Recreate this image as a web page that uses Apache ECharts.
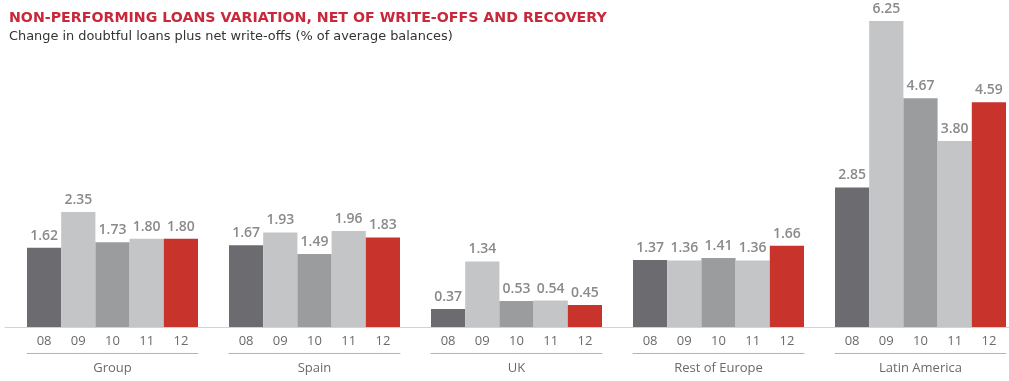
<!DOCTYPE html>
<html>
<head>
<meta charset="utf-8">
<script src="https://cdn.jsdelivr.net/npm/echarts@6/dist/echarts.min.js"></script>
<style>
  html, body { margin: 0; padding: 0; background: #ffffff; }
  #chart { width: 1009px; height: 381px; }
</style>
</head>
<body>
<div id="chart"></div>
<script>
// Years shown under each bar and region names under each group
const years = ['08', '09', '10', '11', '12'];
const regions = ['Group', 'Spain', 'UK', 'Rest of Europe', 'Latin America'];

// Change in doubtful loans plus net write-offs, % of average balances
const groupValues = [1.62, 2.35, 1.73, 1.80, 1.80];
const spainValues = [1.67, 1.93, 1.49, 1.96, 1.83];
const ukValues = [0.37, 1.34, 0.53, 0.54, 0.45];
const restOfEuropeValues = [1.37, 1.36, 1.41, 1.36, 1.66];
const latinAmericaValues = [2.85, 6.25, 4.67, 3.80, 4.59];

const regionValues = [groupValues, spainValues, ukValues, restOfEuropeValues, latinAmericaValues];

// Shared vertical scale for all panels
const yMax = 6.25;

// One colour per year: 08 dark, 09 light, 10 mid, 11 light, 12 red
const yearColors = ['#6c6c70', '#c4c5c7', '#9b9c9e', '#c4c5c7', '#c8332c'];

const FONT = '"Open Sans", "DejaVu Sans", sans-serif';
const HEAD_FONT = '"DejaVu Sans", sans-serif';
const PANEL_LEFT = 27, PANEL_STEP = 202, PANEL_WIDTH = 171;
const TOP = 21, BOTTOM = 54;

const grids = [], xAxes = [], yAxes = [], series = [];

regions.forEach((name, i) => {
  grids.push({ left: PANEL_LEFT + PANEL_STEP * i, width: PANEL_WIDTH, top: TOP, bottom: BOTTOM });
  // year labels under the bars
  xAxes.push({
    type: 'category', gridIndex: i, data: years,
    axisLine: { show: false }, axisTick: { show: false },
    axisLabel: { color: '#6a6a6a', fontSize: 13, fontFamily: FONT, margin: 8 }
  });
  // underline and region name below the year labels
  xAxes.push({
    type: 'category', gridIndex: i, data: years, position: 'bottom', offset: 26,
    axisLine: { show: true, lineStyle: { color: '#e0a0a6', width: 1 } },
    axisTick: { show: false }, axisLabel: { show: false },
    name: name, nameLocation: 'middle', nameGap: 9,
    nameTextStyle: { color: '#6a6a6a', fontSize: 13, fontFamily: FONT }
  });
  yAxes.push({ type: 'value', gridIndex: i, min: 0, max: yMax, show: false });
  series.push({
    type: 'bar', xAxisIndex: 2 * i, yAxisIndex: i,
    barCategoryGap: '0%',
    data: regionValues[i].map((v, k) => ({ value: v, itemStyle: { color: yearColors[k] } })),
    label: {
      show: true, position: 'top', distance: 5,
      formatter: p => p.value.toFixed(2),
      color: '#8a8a8a', fontSize: 14, fontWeight: 600, fontFamily: FONT
    }
  });
});

// Full-width baseline running under every panel
grids.push({ left: 5, right: 0, top: TOP, bottom: BOTTOM });
xAxes.push({
  type: 'value', gridIndex: regions.length, min: 0, max: 1,
  axisLine: { show: true, lineStyle: { color: '#efc6c7', width: 1 } },
  axisTick: { show: false }, axisLabel: { show: false }, splitLine: { show: false }
});
yAxes.push({ type: 'value', gridIndex: regions.length, show: false });

const chart = echarts.init(document.getElementById('chart'), null, { renderer: 'canvas' });
chart.setOption({
  animation: false,
  backgroundColor: '#ffffff',
  title: {
    text: 'NON-PERFORMING LOANS VARIATION, NET OF WRITE-OFFS AND RECOVERY',
    subtext: 'Change in doubtful loans plus net write-offs (% of average balances)',
    left: 4, top: 6, itemGap: 5,
    textStyle: { color: '#c8283a', fontSize: 14.2, fontWeight: 700, fontFamily: HEAD_FONT },
    subtextStyle: { color: '#333333', fontSize: 12.9, fontFamily: HEAD_FONT }
  },
  grid: grids,
  xAxis: xAxes,
  yAxis: yAxes,
  series: series
});
</script>
</body>
</html>
